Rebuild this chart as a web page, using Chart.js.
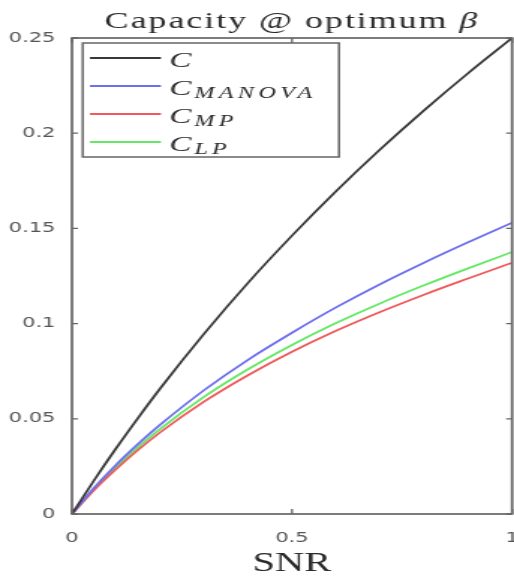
<!DOCTYPE html>
<html>
<head>
<meta charset="utf-8">
<script src="https://cdn.jsdelivr.net/npm/chart.js@4/dist/chart.umd.min.js"></script>
<style>
html,body{margin:0;padding:0;background:#fff;overflow:hidden;}
canvas{display:block;width:514px!important;height:577px!important;}
</style>
</head>
<body>
<canvas id="c" width="343" height="577"></canvas>
<script>
// ---- data ----
const snr        = [0, 0.05, 0.1, 0.15, 0.2, 0.3, 0.4, 0.5, 0.6, 0.7, 0.8, 0.9, 1.0];
const capC       = [0, 0.0176, 0.0344, 0.0504, 0.0658, 0.0946, 0.1214, 0.1462, 0.1695, 0.1914, 0.2120, 0.2315, 0.25];
const capMANOVA  = [0, 0.0137, 0.0258, 0.0367, 0.0468, 0.0650, 0.0810, 0.0952, 0.1085, 0.1207, 0.1320, 0.1427, 0.153];
const capMP      = [0, 0.0125, 0.0235, 0.0336, 0.0428, 0.0590, 0.0729, 0.0852, 0.0962, 0.1061, 0.1152, 0.1237, 0.132];
const capLP      = [0, 0.0130, 0.0245, 0.0350, 0.0446, 0.0615, 0.0760, 0.0888, 0.1003, 0.1106, 0.1201, 0.1290, 0.1376];
const xTicks     = [0, 0.5, 1];
const yTicks     = [0, 0.05, 0.1, 0.15, 0.2, 0.25];
const legendMain = ['C', 'C', 'C', 'C'];
const legendSub  = ['', 'MANOVA', 'MP', 'LP'];
const titleText  = 'Capacity @ optimum ';
const titleSym   = 'β';
const xTitle     = 'SNR';

const colors = ['#383838', '#6f6fee', '#f05a5c', '#66e866'];
const series = [capC, capMANOVA, capMP, capLP];

const toXY = arr => arr.map((v, i) => ({x: snr[i], y: v}));

const decor = {
  id: 'decor',
  afterDraw(chart) {
    const ctx = chart.ctx;
    const a = chart.chartArea;
    const xs = chart.scales.x, ys = chart.scales.y;
    ctx.save();
    // frame
    ctx.strokeStyle = '#666';
    ctx.lineWidth = 1.7;
    ctx.strokeRect(a.left, a.top, a.right - a.left, a.bottom - a.top);
    // inward ticks
    ctx.lineWidth = 1.3;
    ctx.beginPath();
    xTicks.forEach(v => {
      const px = xs.getPixelForValue(v);
      ctx.moveTo(px, a.bottom); ctx.lineTo(px, a.bottom - 5);
      ctx.moveTo(px, a.top); ctx.lineTo(px, a.top + 5);
    });
    yTicks.forEach(v => {
      const py = ys.getPixelForValue(v);
      ctx.moveTo(a.left, py); ctx.lineTo(a.left + 4, py);
      ctx.moveTo(a.right, py); ctx.lineTo(a.right - 4, py);
    });
    ctx.stroke();

    // title
    ctx.fillStyle = '#2a2a2a';
    ctx.textBaseline = 'alphabetic';
    ctx.font = '24px "Liberation Serif", "DejaVu Serif", serif';
    ctx.letterSpacing = '1.3px';
    const w1 = ctx.measureText(titleText).width;
    ctx.font = 'italic 24px "Liberation Serif", "DejaVu Serif", serif';
    const w2 = ctx.measureText(titleSym).width;
    const cx = (a.left + a.right) / 2;
    let tx = cx - (w1 + w2) / 2;
    ctx.font = '24px "Liberation Serif", "DejaVu Serif", serif';
    ctx.textAlign = 'left';
    ctx.fillText(titleText, tx, 28);
    ctx.font = 'italic 24px "Liberation Serif", "DejaVu Serif", serif';
    ctx.fillText(titleSym, tx + w1, 28);
    ctx.letterSpacing = '0px';

    // legend
    const lx0 = 55.2, ly0 = 43, lx1 = 226.2, ly1 = 157;
    ctx.fillStyle = '#fff';
    ctx.fillRect(lx0, ly0, lx1 - lx0, ly1 - ly0);
    ctx.strokeStyle = '#666';
    ctx.lineWidth = 1.5;
    ctx.strokeRect(lx0, ly0, lx1 - lx0, ly1 - ly0);
    chart.data.datasets.forEach((ds, i) => {
      const y = 58 + i * 28;
      ctx.strokeStyle = ds.borderColor;
      ctx.lineWidth = 1.8;
      ctx.beginPath();
      ctx.moveTo(60, y); ctx.lineTo(107.4, y);
      ctx.stroke();
      ctx.fillStyle = '#2a2a2a';
      ctx.font = 'italic 22px "Liberation Serif", "DejaVu Serif", serif';
      ctx.fillText(legendMain[i], 113, y + 9);
      const cw = ctx.measureText(legendMain[i]).width;
      if (legendSub[i]) {
        ctx.font = 'italic 16px "Liberation Serif", "DejaVu Serif", serif';
        ctx.letterSpacing = '3px';
        ctx.fillText(legendSub[i], 113 + cw + 2, y + 12);
        ctx.letterSpacing = '0px';
      }
    });
    ctx.restore();
  }
};

new Chart(document.getElementById('c'), {
  type: 'line',
  data: {
    datasets: series.map((s, i) => ({
      label: legendMain[i] + (legendSub[i] ? '_' + legendSub[i] : ''),
      data: toXY(s),
      borderColor: colors[i],
      borderWidth: 1.8,
      pointRadius: 0,
      fill: false,
      cubicInterpolationMode: 'monotone'
    }))
  },
  options: {
    responsive: false,
    devicePixelRatio: 1,
    animation: false,
    layout: {padding: {top: 38, right: 1.3, left: 0, bottom: 0}},
    plugins: {legend: {display: false}, title: {display: false}, tooltip: {enabled: false}},
    scales: {
      x: {
        type: 'linear', min: 0, max: 1,
        grid: {display: false, drawTicks: false},
        border: {display: false},
        afterBuildTicks: s => { s.ticks = xTicks.map(v => ({value: v})); },
        afterFit: s => { s.height = 63; s.paddingLeft = 0; s.paddingRight = 0; },
        ticks: {
          padding: 16, color: '#555', maxRotation: 0,
          font: {family: '"DejaVu Sans", sans-serif', size: 14},
          callback: v => String(+v.toFixed(2))
        },
        title: {
          display: true, text: xTitle, color: '#2a2a2a',
          font: {family: '"Liberation Serif", "DejaVu Serif", serif', size: 27, lineHeight: 1},
          padding: {top: 0, bottom: 0}
        }
      },
      y: {
        type: 'linear', min: 0, max: 0.25,
        grid: {display: false, drawTicks: false},
        border: {display: false},
        afterBuildTicks: s => { s.ticks = yTicks.map(v => ({value: v})); },
        afterFit: s => { s.width = 48; s.paddingTop = 0; s.paddingBottom = 0; },
        ticks: {
          padding: 11, color: '#555',
          font: {family: '"DejaVu Sans", sans-serif', size: 14},
          callback: v => String(+v.toFixed(2))
        }
      }
    }
  },
  plugins: [decor]
});
</script>
</body>
</html>
